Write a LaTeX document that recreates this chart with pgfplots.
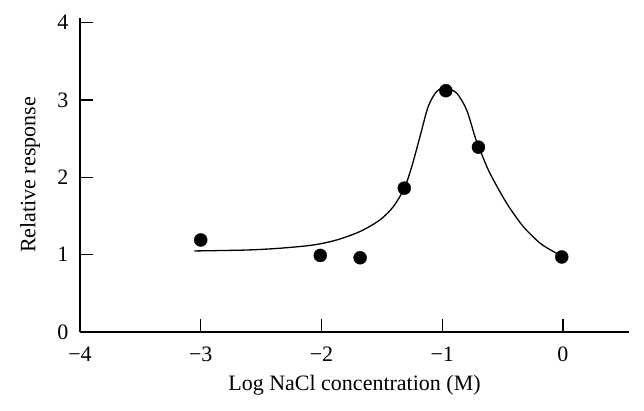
\documentclass[border=0pt]{standalone}
\usepackage{fontspec}
\setmainfont{Liberation Serif}
\usepackage{pgfplots}
\pgfplotsset{compat=1.18}
\begin{document}
\begin{tikzpicture}
\useasboundingbox (-80pt,-79pt) rectangle (564pt,332pt);
\begin{axis}[
  at={(0pt,0pt)}, anchor=south west,
  scale only axis,
  width=549pt, height=314pt,
  xmin=-4, xmax=0.547,
  ymin=0, ymax=4.06,
  axis x line*=bottom,
  axis y line*=left,
  axis line style={black, line width=1.2pt, -},
  tick style={black, line width=1.2pt},
  xtick align=inside, ytick align=inside,
  major tick length=13pt,
  xtick={-4,-3,-2,-1,0},
  xticklabels={−4,−3,−2,−1,0},
  ytick={0,1,2,3,4},
  yticklabels={0,1,2,3,4},
  font=\fontsize{22}{26}\selectfont,
  xticklabel style={anchor=base, yshift=-30pt},
  yticklabel style={anchor=east, xshift=-8pt},
  xlabel={Log NaCl concentration (M)},
  ylabel={Relative response},
  xlabel style={at={(axis description cs:0.5,-0.169)}, anchor=center},
  ylabel style={at={(axis description cs:-0.091,0.5)}, anchor=center},
  clip=false,
]
\addplot[black, line width=1.3pt, smooth, no markers] coordinates {
  (-3.053,1.048) (-2.62,1.06) (-2.344,1.083) (-2.068,1.125) (-1.874,1.19)
  (-1.68,1.30) (-1.516,1.449) (-1.405,1.621) (-1.314,1.859) (-1.253,2.135)
  (-1.184,2.527) (-1.116,2.915) (-1.046,3.109) (-0.969,3.153) (-0.880,3.088)
  (-0.798,2.872) (-0.729,2.527) (-0.687,2.354) (-0.605,2.053) (-0.466,1.665)
  (-0.329,1.364) (-0.190,1.149) (-0.080,1.041) (-0.002,0.976)
};
\addplot[only marks, mark=*, mark size=6.5pt, black] coordinates {
  (-3.0,1.19) (-2.01,0.99) (-1.68,0.96) (-1.314,1.86)
  (-0.97,3.12) (-0.70,2.39) (-0.01,0.97)
};
\end{axis}
\end{tikzpicture}
\end{document}
